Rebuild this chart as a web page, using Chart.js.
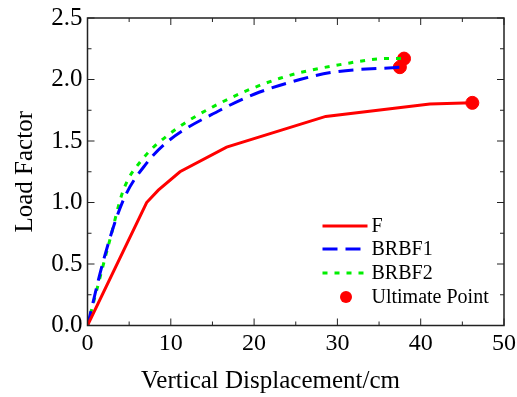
<!DOCTYPE html>
<html lang="en">
<head>
    <meta charset="UTF-8">
    <title>Load Factor vs Vertical Displacement</title>
    <script src="https://cdn.jsdelivr.net/npm/chart.js"></script>
    <style>
        body { margin: 0; background: #fff; }
        #wrap { width: 517px; height: 397px; }
    </style>
</head>
<body>
    <div id="wrap"><canvas id="chart" width="517" height="397"></canvas></div>

    <script>
        // Données
        const fX = [0, 7.1, 8.5, 11.1, 16.7, 28.6, 41.1, 46.2];
        const fY = [0, 1.00, 1.10, 1.25, 1.45, 1.70, 1.80, 1.81];

        const brbf1X = [0, 2.0, 4.3, 7.1, 9.7, 15.9, 20.0, 25.5, 29.5, 37.5];
        const brbf1Y = [0, 0.55, 1.02, 1.32, 1.50, 1.75, 1.88, 2.00, 2.06, 2.10];

        const brbf2X = [0, 2.7, 4.3, 6.7, 9.7, 15.1, 23.1, 31.1, 35.9, 38.0];
        const brbf2Y = [0, 0.70, 1.10, 1.36, 1.55, 1.78, 2.01, 2.13, 2.17, 2.17];

        const ultimateX = [46.2, 37.5, 38.0];
        const ultimateY = [1.81, 2.10, 2.17];

        const seriesNames = ['F', 'BRBF1', 'BRBF2', 'Ultimate Point'];
        const xTitle = 'Vertical Displacement/cm';
        const yTitle = 'Load Factor';

        const toPoints = (xs, ys) => xs.map((x, i) => ({ x: x, y: ys[i] }));
        const serif = 'Liberation Serif, Times New Roman, serif';

        // Cadre + graduations vers l'intérieur sur les 4 côtés
        const framePlugin = {
            id: 'frame',
            afterDraw(chart) {
                const { ctx, chartArea: a, scales } = chart;
                ctx.save();
                ctx.strokeStyle = '#222';
                ctx.lineWidth = 1.5;
                ctx.strokeRect(a.left, a.top, a.right - a.left, a.bottom - a.top);
                ctx.lineWidth = 1;
                for (let v = 0; v <= 50; v += 5) {
                    const px = scales.x.getPixelForValue(v);
                    const len = v % 10 === 0 ? 7 : 4;
                    ctx.beginPath();
                    ctx.moveTo(px, a.bottom); ctx.lineTo(px, a.bottom - len);
                    ctx.moveTo(px, a.top); ctx.lineTo(px, a.top + len);
                    ctx.stroke();
                }
                for (let v = 0; v <= 2.5001; v += 0.25) {
                    const py = scales.y.getPixelForValue(v);
                    const len = Math.round(v * 100) % 50 === 0 ? 7 : 4;
                    ctx.beginPath();
                    ctx.moveTo(a.left, py); ctx.lineTo(a.left + len, py);
                    ctx.moveTo(a.right, py); ctx.lineTo(a.right - len, py);
                    ctx.stroke();
                }

                // titre de l'axe X (décalé à gauche comme dans l'original)
                ctx.font = '25px ' + serif;
                ctx.fillStyle = '#000';
                ctx.textAlign = 'center';
                ctx.textBaseline = 'alphabetic';
                ctx.fillText(xTitle, a.left + 183, a.bottom + 62);
                ctx.restore();
            }
        };

        // Légende dans la zone du graphique
        const legendPlugin = {
            id: 'innerLegend',
            afterDraw(chart) {
                const { ctx, chartArea: a } = chart;
                const x0 = a.left + 235, x1 = a.left + 280, tx = a.left + 284;
                const rows = [a.top + 208, a.top + 231, a.top + 255, a.top + 279];
                ctx.save();
                ctx.font = '20px ' + serif;
                ctx.textBaseline = 'middle';
                chart.data.datasets.forEach((ds, i) => {
                    const y = rows[i];
                    if (ds.showLine === false) {
                        ctx.beginPath();
                        ctx.fillStyle = ds.backgroundColor;
                        ctx.arc((x0 + x1) / 2 + 1, y, 6, 0, Math.PI * 2);
                        ctx.fill();
                    } else {
                        ctx.beginPath();
                        ctx.strokeStyle = ds.borderColor;
                        ctx.lineWidth = ds.borderWidth;
                        ctx.setLineDash(ds.borderDash || []);
                        ctx.moveTo(x0, y); ctx.lineTo(x1, y);
                        ctx.stroke();
                        ctx.setLineDash([]);
                    }
                    ctx.fillStyle = '#000';
                    ctx.fillText(ds.label, tx, y + 1);
                });
                ctx.restore();
            }
        };

        // Les libellés de bord ne doivent pas réduire la zone du graphique
        const noEdgePadding = (s) => {
            s.paddingLeft = 0; s.paddingRight = 0;
            s.paddingTop = 0; s.paddingBottom = 0;
        };

        const ctx = document.getElementById('chart').getContext('2d');
        new Chart(ctx, {
            type: 'scatter',
            data: {
                datasets: [
                    {
                        label: seriesNames[0],
                        data: toPoints(fX, fY),
                        showLine: true,
                        borderColor: '#ff0000',
                        borderWidth: 3,
                        pointRadius: 0
                    },
                    {
                        label: seriesNames[1],
                        data: toPoints(brbf1X, brbf1Y),
                        showLine: true,
                        borderColor: '#0000ff',
                        borderWidth: 3,
                        borderDash: [15, 8],
                        cubicInterpolationMode: 'monotone',
                        pointRadius: 0
                    },
                    {
                        label: seriesNames[2],
                        data: toPoints(brbf2X, brbf2Y),
                        showLine: true,
                        borderColor: '#00ee00',
                        borderWidth: 3,
                        borderDash: [5, 7],
                        cubicInterpolationMode: 'monotone',
                        pointRadius: 0
                    },
                    {
                        label: seriesNames[3],
                        data: toPoints(ultimateX, ultimateY),
                        showLine: false,
                        backgroundColor: '#ff0000',
                        borderColor: '#ff0000',
                        pointRadius: 6.5
                    }
                ]
            },
            options: {
                responsive: false,
                animation: false,
                layout: { padding: { top: 18, right: 13, left: 0, bottom: 0 } },
                plugins: { legend: { display: false }, tooltip: { enabled: false } },
                scales: {
                    x: {
                        type: 'linear',
                        min: 0, max: 50,
                        grid: { display: false, drawTicks: false },
                        border: { display: false },
                        afterFit: (s) => { s.height = 71.5; noEdgePadding(s); },
                        ticks: {
                            stepSize: 10,
                            color: '#000',
                            padding: 4,
                            font: { family: serif, size: 24 }
                        }
                    },
                    y: {
                        type: 'linear',
                        min: 0, max: 2.5,
                        grid: { display: false, drawTicks: false },
                        border: { display: false },
                        afterFit: (s) => { s.width = 87.5; noEdgePadding(s); },
                        ticks: {
                            stepSize: 0.5,
                            color: '#000',
                            padding: 5,
                            font: { family: serif, size: 25 },
                            callback: (v) => v.toFixed(1)
                        },
                        title: {
                            display: true,
                            text: yTitle,
                            color: '#000',
                            padding: { top: 10, bottom: 0 },
                            font: { family: serif, size: 25 }
                        }
                    }
                }
            },
            plugins: [framePlugin, legendPlugin]
        });
    </script>
</body>
</html>
